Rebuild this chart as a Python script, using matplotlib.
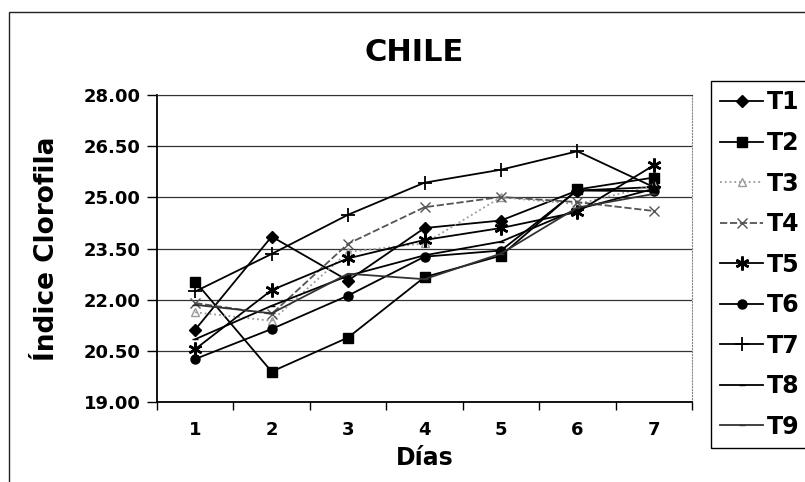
# ------------------------------------------------------------------------------
# -------------------------------------------------------------- IMPORT PACKAGES
import matplotlib
matplotlib.use('Agg')
import matplotlib.pyplot as plt
from matplotlib.patches import Rectangle
from matplotlib.ticker import FixedLocator, FormatStrFormatter

# ------------------------------------------------------------------------------
# ------------------------------------------------------------------------- DATA
dias = [1, 2, 3, 4, 5, 6, 7]
series = ['T1', 'T2', 'T3', 'T4', 'T5', 'T6', 'T7', 'T8', 'T9']

t1 = [21.12, 23.85, 22.56, 24.10, 24.32, 25.20, 25.30]
t2 = [22.53, 19.89, 20.89, 22.66, 23.29, 25.23, 25.58]
t3 = [21.63, 21.38, 23.40, 23.65, 25.00, 24.80, 25.35]
t4 = [21.90, 21.58, 23.64, 24.71, 25.01, 24.86, 24.60]
t5 = [20.55, 22.28, 23.21, 23.75, 24.10, 24.57, 25.94]
t6 = [20.26, 21.14, 22.12, 23.26, 23.44, 25.20, 25.18]
t7 = [22.24, 23.34, 24.49, 25.43, 25.81, 26.35, 25.30]
t8 = [20.84, 21.82, 22.70, 23.30, 23.70, 24.65, 25.25]
t9 = [21.85, 21.60, 22.76, 22.60, 23.35, 24.70, 25.10]

y_ticks = [19.0, 20.5, 22.0, 23.5, 25.0, 26.5, 28.0]

# ------------------------------------------------------------------------------
# ----------------------------------------------------------------------- STYLES
estilos = {
	'T1': dict(color='black', ls='-', marker='D', ms=6),
	'T2': dict(color='black', ls='-', marker='s', ms=6.5),
	'T3': dict(color='#9a9a9a', ls=':', marker='^', ms=5.5, mfc='none'),
	'T4': dict(color='#555555', ls=(0, (4, 1.5)), marker='x', ms=7.5),
	'T5': dict(color='black', ls='-', marker=(6, 2, 0), ms=10, mew=1.8),
	'T6': dict(color='black', ls='-', marker='o', ms=6.5),
	'T7': dict(color='black', ls='-', marker='+', ms=10, mew=1.3),
	'T8': dict(color='black', ls='-', marker='_', ms=5),
	'T9': dict(color='#333333', ls='-', marker='_', ms=5),
}

# ------------------------------------------------------------------------------
# ------------------------------------------------------------------------- MAIN
def plot_chile():
	plt.rcParams['font.family'] = ['DejaVu Sans']
	plt.rcParams['font.weight'] = 'bold'

	fig = plt.figure(figsize=(8.05, 4.82), dpi=100)
	ax = fig.add_axes([157/805., 1-402/482., (692-157)/805., (402-95)/482.])

	# outer chart border
	fig.patches.append(Rectangle((9/805., -0.02), 1.02, 1-12/482.+0.02,
		transform=fig.transFigure, fill=False, ec='#222222', lw=1.0))

	datos = [t1, t2, t3, t4, t5, t6, t7, t8, t9]
	for name, vals in zip(series, datos):
		ax.plot(dias, vals, label=name, lw=1.3, **estilos[name])

	# -------------------------------------------------------------------- AXES
	ax.set_xlim(0.5, 7.5)
	ax.set_ylim(19.0, 28.0)
	ax.yaxis.set_major_locator(FixedLocator(y_ticks))
	ax.yaxis.set_major_formatter(FormatStrFormatter('%.2f'))
	ax.set_xticks(dias)
	ax.xaxis.set_minor_locator(FixedLocator([i + 0.5 for i in range(0, 8)]))
	ax.tick_params(axis='x', which='major', length=0, pad=14, labelsize=13)
	ax.tick_params(axis='x', which='minor', length=6, width=1, direction='out')
	ax.tick_params(axis='y', length=7, width=1, pad=5, labelsize=13)

	ax.grid(axis='y', color='#333333', lw=0.9)
	ax.set_axisbelow(True)
	ax.spines['left'].set_linewidth(1.3)
	ax.spines['bottom'].set_linewidth(1.3)
	ax.spines['top'].set_color('#333333')
	ax.spines['right'].set_color('#888888')
	ax.spines['right'].set_linestyle(':')

	ax.set_xlabel('Días', fontsize=17, fontweight='bold', labelpad=5)
	ax.set_ylabel('Índice Clorofila', fontsize=19, fontweight='bold', labelpad=17)
	fig.text(414/805., 1-52/482., 'CHILE', fontsize=22, fontweight='bold',
		ha='center', va='center')

	# ------------------------------------------------------------------ LEGEND
	leg = fig.legend(loc='upper left', bbox_to_anchor=(711/805., 1-81/482.),
		prop={'size': 17, 'weight': 'bold'}, frameon=True, fancybox=False,
		edgecolor='black', framealpha=1, borderaxespad=0, borderpad=0.4,
		labelspacing=0.7, handlelength=1.8, handletextpad=0.15)
	leg.get_frame().set_linewidth(1.0)

	fig.savefig('out.png', dpi=100)
	plt.close()

# ------------------------------------------------------------------------------
# ------------------------------------------------------------------------------
if __name__ == '__main__':
	plot_chile()
